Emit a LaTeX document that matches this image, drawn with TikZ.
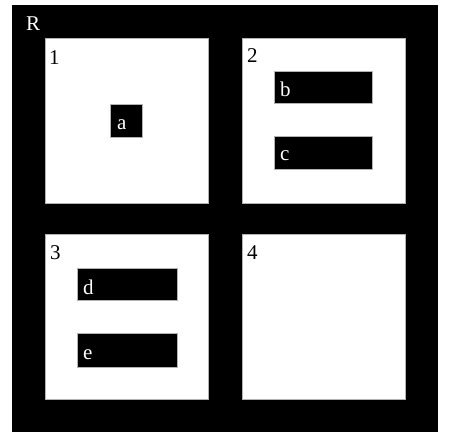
\documentclass[tikz,border=0pt]{standalone}
\usepackage{fontspec}
\setmainfont{Liberation Serif}
\begin{document}
\begin{tikzpicture}[x=1bp,y=-1bp,
  panel/.style={fill=white,draw=gray!60,line width=0.6bp},
  blk/.style={fill=black,draw=gray!60,line width=0.4bp},
  lbl/.style={anchor=base west,inner sep=0pt,font=\fontsize{21bp}{23bp}\selectfont},
  wlbl/.style={lbl,text=white}]
\useasboundingbox (0,0) rectangle (455,431);
\fill[black] (12,5) coordinate (Rnw) rectangle (438,432);
\node[wlbl] (Rl) at (26,30) {R};
% panels
\draw[panel] (45,38) coordinate (p1) rectangle (208,203);
\draw[panel] (242,38) coordinate (p2) rectangle (405,203);
\draw[panel] (45,234) coordinate (p3) rectangle (208,399);
\draw[panel] (242,234) coordinate (p4) rectangle (405,399);
\node[lbl] (l1) at (49,64) {1};
\node[lbl] (l2) at (247,62) {2};
\node[lbl] (l3) at (50,259) {3};
\node[lbl] (l4) at (247,259) {4};
% boxes
\draw[blk] (110,104) rectangle (142,137);
\draw[blk] (274,71) rectangle (372,103);
\draw[blk] (274,136) rectangle (372,169);
\draw[blk] (77,268) rectangle (177,300);
\draw[blk] (77,333) rectangle (177,367);
\node[wlbl] (la) at (117,129) {a};
\node[wlbl] (lb) at (280,96) {b};
\node[wlbl] (lc) at (280,160) {c};
\node[wlbl] (ld) at (83,294) {d};
\node[wlbl] (le) at (83,359) {e};
\end{tikzpicture}
\end{document}
